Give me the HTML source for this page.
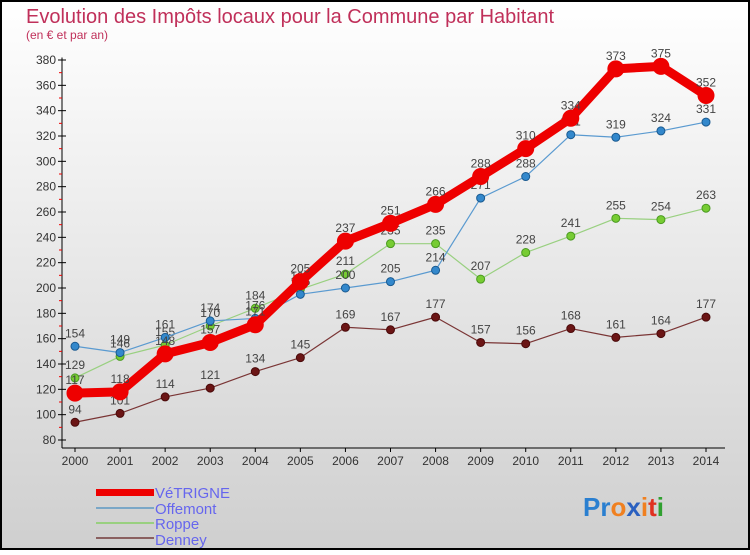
<!DOCTYPE html>
<html><head><meta charset="utf-8"><style>
body{margin:0}
svg text{font-family:"Liberation Sans",sans-serif}
</style></head><body>
<svg width="750" height="550" xmlns="http://www.w3.org/2000/svg">
<defs><linearGradient id="bg" x1="0" y1="0" x2="0" y2="1"><stop offset="0" stop-color="#ffffff"/><stop offset="1" stop-color="#cfcfcf"/></linearGradient></defs>
<rect x="1" y="1" width="748" height="548" fill="url(#bg)" stroke="#000" stroke-width="2"/>
<text x="26" y="23" font-size="20" fill="#c0305a">Evolution des Impôts locaux pour la Commune par Habitant</text>
<text x="26" y="39" font-size="12" fill="#c0305a">(en € et par an)</text>
<g id="axes"></g><g id="series"></g>
<g>
<rect x="96" y="489" width="58" height="7" fill="#e00"/>
<text x="155" y="498" font-size="15" fill="#6666ee">VéTRIGNE</text>
<line x1="96" y1="508" x2="154" y2="508" stroke="#7aa7c7" stroke-width="2"/>
<text x="155" y="514" font-size="15" fill="#6666ee">Offemont</text>
<line x1="96" y1="523" x2="154" y2="523" stroke="#99d080" stroke-width="2"/>
<text x="155" y="529" font-size="15" fill="#6666ee">Roppe</text>
<line x1="96" y1="538" x2="154" y2="538" stroke="#8a6060" stroke-width="2"/>
<text x="155" y="545" font-size="15" fill="#6666ee">Denney</text>
</g>
<g font-size="26" font-weight="bold">
<text x="583" y="516"><tspan fill="#2a7fd0">Pr</tspan><tspan fill="#f08020">o</tspan><tspan fill="#2a60c0">x</tspan><tspan fill="#f08020">i</tspan><tspan fill="#e03020">t</tspan><tspan fill="#30a030">i</tspan></text>
</g>
</svg>
<script>
const years=[2000,2001,2002,2003,2004,2005,2006,2007,2008,2009,2010,2011,2012,2013,2014];
const vetrigne=[117,118,148,157,171,205,237,251,266,288,310,334,373,375,352];
const offemont=[154,149,161,174,176,195,200,205,214,271,288,321,319,324,331];
const roppe=[129,146,155,170,184,199,211,235,235,207,228,241,255,254,263];
const denney=[94,101,114,121,134,145,169,167,177,157,156,168,161,164,177];
const yTicks=[80,100,120,140,160,180,200,220,240,260,280,300,320,340,360,380];
const NS="http://www.w3.org/2000/svg";
const X=i=>75+i*(706-75)/(years.length-1);
const Y=v=>440-(v-80)*(380/300);
function mk(t,a,p){const e=document.createElementNS(NS,t);for(const k in a)e.setAttribute(k,a[k]);p.appendChild(e);return e;}
const ax=document.getElementById('axes');
const yl=mk('line',{x1:62,y1:Y(382),x2:62,y2:448,stroke:'#000'},ax);


const xl=mk('line',{x1:62,y1:448,x2:725,y2:448,stroke:'#000'},ax);


yTicks.forEach(v=>{
 mk('line',{x1:58,y1:Y(v),x2:66,y2:Y(v),stroke:'#000'},ax);
 if(v<380)mk('line',{x1:59,y1:Y(v+10),x2:62,y2:Y(v+10),stroke:'#e00'},ax);
 const t=mk('text',{x:56,y:Y(v)+4,'font-size':12,'text-anchor':'end',fill:'#333'},ax);t.textContent=v;
 
 
});
years.forEach((y,i)=>{
 mk('line',{x1:X(i),y1:448,x2:X(i),y2:452,stroke:'#000'},ax);
 const t=mk('text',{x:X(i),y:465,'font-size':12,'text-anchor':'middle',fill:'#333'},ax);t.textContent=y;
 
 
});
const sg=document.getElementById('series');
function draw(name,data,col,w,r,dot,stroke){
 const g=mk('g',{},sg);
 
 
 mk('polyline',{points:data.map((v,i)=>X(i)+','+Y(v)).join(' '),fill:'none',stroke:col,'stroke-width':w,'stroke-linejoin':'round'},g);
 data.forEach((v,i)=>{
  const c=mk('circle',{cx:X(i),cy:Y(v),r:r,fill:dot,stroke:stroke,'stroke-width':1},g);
  
  
  const t=mk('text',{x:X(i),y:Y(v)-9,'font-size':12,'text-anchor':'middle',fill:'#444'},g);t.textContent=v;
  
  
 });
}
draw('denney',denney,'#7a3535',1.2,4,'#6b1515','#4a0a0a');
draw('roppe',roppe,'#99d080',1.2,4,'#77cc33','#4a9a20');
draw('offemont',offemont,'#5a9ad0',1.2,4,'#3388cc','#1a5a90');
draw('vetrigne',vetrigne,'#ee0000',9,8,'#ee0000','#ee0000');
</script>
</body></html>
